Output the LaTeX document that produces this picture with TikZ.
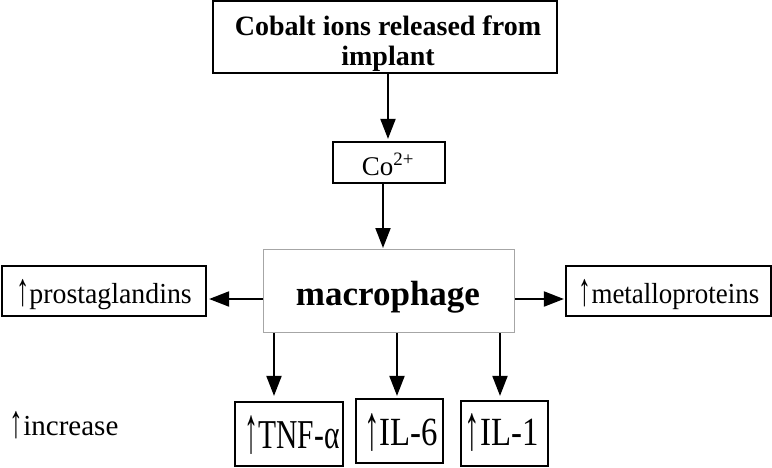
\documentclass[tikz,border=0pt]{standalone}
\usepackage{fontspec}
\setmainfont{Liberation Serif}
\usetikzlibrary{arrows.meta}
\newcommand\uparr{\raisebox{-0.1em}{\scalebox{0.95}[1.6]{↑}}}
\begin{document}
\begin{tikzpicture}[x=1pt,y=-1pt,
  box/.style={draw=black,line width=2.2pt,inner sep=0pt},
  txt/.style={inner sep=0pt,anchor=base,font=\fontsize{29}{34}\selectfont},
  arr/.style={line width=2pt,-{Triangle[length=20pt,width=15pt]}}]
\useasboundingbox (0,0) rectangle (772,467);
% boxes
\node[box,minimum width=344pt,minimum height=72pt] (top) at (385,37) {};
\node[box,minimum width=112pt,minimum height=41pt] (co) at (389,162.5) {};
\node[draw=gray!70,line width=1pt,minimum width=251pt,minimum height=83pt,inner sep=0pt] (mac) at (389,291) {};
\node[box,minimum width=204pt,minimum height=50pt] (pro) at (104,291) {};
\node[box,minimum width=205pt,minimum height=50pt] (met) at (668.5,291) {};
\node[box,minimum width=108pt,minimum height=64pt] (tnf) at (289,434) {};
\node[box,minimum width=87pt,minimum height=64pt] (il6) at (399.5,431) {};
\node[box,minimum width=87pt,minimum height=65pt] (il1) at (504.5,433.5) {};
% texts
\node[inner sep=0pt,align=center,font=\fontsize{28}{30}\selectfont\bfseries] (toptxt) at (388,44) {Cobalt ions released from\\implant};
\node[txt,font=\fontsize{27}{32}\selectfont] (cotxt) at (388,175) {Co\textsuperscript{2+}};
\node[txt,font=\fontsize{35}{40}\selectfont\bfseries] (mactxt) at (388,305) {macrophage};
\node[txt] (protxt) at (104,303) {\scalebox{0.96}[1]{\uparr prostaglandins}};
\node[txt] (mettxt) at (669,303) {\scalebox{0.93}[1]{\uparr metalloproteins}};
\node[txt,font=\fontsize{41}{46}\selectfont] (tnftxt) at (292,448) {\scalebox{0.72}[1]{\uparr TNF-α}};
\node[txt,font=\fontsize{40}{46}\selectfont] (il6txt) at (401,445) {\scalebox{0.82}[1]{\uparr IL-6}};
\node[txt,font=\fontsize{40}{46}\selectfont] (il1txt) at (501.5,445) {\scalebox{0.82}[1]{\uparr IL-1}};
\node[txt] (inc) at (64,435) {\uparr increase};
% connectors
\coordinate (c1) at (388,0);
\coordinate (c2) at (383,0);
\coordinate (h1) at (0,299);
\coordinate (d1) at (274,0);
\coordinate (d2) at (397,0);
\coordinate (d3) at (500,0);
\draw[arr,shorten >=2pt] (top.south -| c1) -- (co.north -| c1);
\draw[arr,shorten >=1pt] (co.south -| c2) -- (mac.north -| c2);
\draw[arr,shorten >=2pt] (mac.west |- h1) -- (pro.east |- h1);
\draw[arr,shorten >=1pt] (mac.east |- h1) -- (met.west |- h1);
\draw[arr,shorten >=5pt] (mac.south -| d1) -- (tnf.north -| d1);
\draw[arr,shorten >=2pt] (mac.south -| d2) -- (il6.north -| d2);
\draw[arr,shorten >=4pt] (mac.south -| d3) -- (il1.north -| d3);
\end{tikzpicture}
\end{document}
